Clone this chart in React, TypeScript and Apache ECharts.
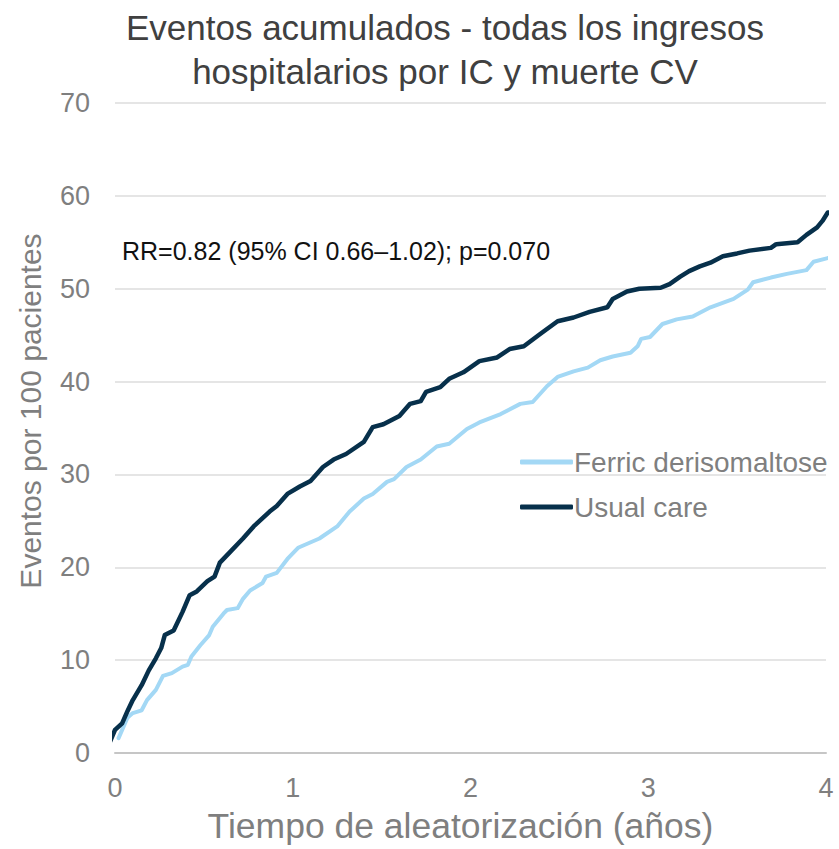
import React, { useEffect, useRef } from "react";
import * as echarts from "echarts";

const titleLines = ["Eventos acumulados - todas los ingresos", "hospitalarios por IC y muerte CV"];
const xAxisName = "Tiempo de aleatorización (años)";
const yAxisName = "Eventos por 100 pacientes";
const annotation = "RR=0.82 (95% CI 0.66–1.02); p=0.070";
const seriesNames = ["Ferric derisomaltose", "Usual care"];

const ferricDerisomaltose: [number, number][] = [
  [0.02, 1.6], [0.07, 3.8], [0.1, 4.3], [0.15, 4.6], [0.18, 5.7], [0.23, 6.8], [0.27, 8.3], [0.32, 8.6],
  [0.38, 9.3], [0.41, 9.5], [0.43, 10.4], [0.48, 11.6], [0.53, 12.7], [0.55, 13.6], [0.61, 15], [0.63, 15.4],
  [0.69, 15.6], [0.72, 16.6], [0.76, 17.5], [0.83, 18.3], [0.85, 19], [0.91, 19.4], [0.97, 20.9], [1.03, 22.1],
  [1.15, 23.1], [1.25, 24.4], [1.32, 26], [1.4, 27.4], [1.45, 27.9], [1.53, 29.2], [1.57, 29.5], [1.64, 30.8],
  [1.72, 31.6], [1.81, 33], [1.88, 33.3], [1.98, 34.9], [2.05, 35.6], [2.17, 36.5], [2.28, 37.6], [2.35, 37.8],
  [2.43, 39.5], [2.49, 40.5], [2.58, 41.1], [2.66, 41.5], [2.73, 42.3], [2.8, 42.7], [2.9, 43.1], [2.94, 43.8],
  [2.96, 44.6], [3.01, 44.8], [3.08, 46.2], [3.16, 46.7], [3.25, 47], [3.35, 48], [3.48, 48.9], [3.56, 49.9],
  [3.59, 50.7], [3.69, 51.2], [3.78, 51.6], [3.89, 52], [3.93, 52.9], [4.01, 53.3], [4.06, 53.5],
];

const usualCare: [number, number][] = [
  [-0.05, 0.2], [0, 2.5], [0.04, 3.2], [0.07, 4.5], [0.1, 5.7], [0.15, 7.3], [0.19, 8.9], [0.23, 10.2],
  [0.26, 11.3], [0.28, 12.7], [0.33, 13.2], [0.38, 15.2], [0.42, 17], [0.46, 17.4], [0.52, 18.5], [0.56, 19],
  [0.59, 20.5], [0.64, 21.5], [0.72, 23.1], [0.78, 24.4], [0.87, 26], [0.91, 26.6], [0.97, 27.9], [1.04, 28.7],
  [1.1, 29.3], [1.17, 30.8], [1.23, 31.6], [1.3, 32.2], [1.4, 33.5], [1.45, 35.1], [1.51, 35.4], [1.6, 36.3],
  [1.66, 37.6], [1.72, 37.9], [1.75, 38.9], [1.83, 39.4], [1.88, 40.3], [1.96, 41], [2.05, 42.2], [2.15, 42.6],
  [2.22, 43.5], [2.3, 43.8], [2.39, 45.1], [2.49, 46.5], [2.58, 46.9], [2.67, 47.5], [2.77, 48], [2.8, 48.9],
  [2.88, 49.7], [2.95, 50], [3.07, 50.1], [3.12, 50.5], [3.18, 51.3], [3.23, 51.9], [3.29, 52.4], [3.35, 52.8],
  [3.42, 53.5], [3.5, 53.8], [3.57, 54.1], [3.69, 54.4], [3.72, 54.8], [3.84, 55], [3.89, 55.8], [3.95, 56.6],
  [3.98, 57.3], [4.01, 58.2], [4.03, 58.2],
];

const FONT = "'Liberation Sans', Arial, sans-serif";
const GRAY = "#7f7f7f";
const LIGHT = "#a3d8f5";
const DARK = "#07304b";

export default function App() {
  const ref = useRef<HTMLDivElement>(null);
  useEffect(() => {
    if (!ref.current) return;
    const chart = echarts.init(ref.current, undefined, { renderer: "svg" });
    chart.setOption({
      animation: false,
      backgroundColor: "#ffffff",
      textStyle: { fontFamily: FONT },
      title: {
        text: titleLines.join("\n"),
        left: 440,
        top: 0,
        textAlign: "center",
        textStyle: { fontFamily: FONT, fontSize: 35, fontWeight: "normal", color: "#404040", lineHeight: 44 },
      },
      grid: { left: 115, right: 13, top: 103, bottom: 94, containLabel: false },
      legend: {
        orient: "vertical",
        left: 515,
        top: 442,
        icon: "roundRect",
        itemWidth: 53,
        itemHeight: 5,
        itemGap: 15,
        textStyle: { fontFamily: FONT, fontSize: 28, color: GRAY, lineHeight: 30, padding: [0, 0, 0, -4] },
        data: seriesNames,
      },
      xAxis: {
        type: "value",
        min: 0,
        max: 4,
        interval: 1,
        name: xAxisName,
        nameLocation: "middle",
        nameGap: 55,
        nameTextStyle: { fontFamily: FONT, fontSize: 35.5, color: GRAY, padding: [0, 20, 0, 0] },
        axisLine: { show: true, lineStyle: { color: "#c6c6c6", width: 2 } },
        axisTick: { show: false },
        splitLine: { show: false },
        axisLabel: { fontFamily: FONT, fontSize: 27, color: GRAY, margin: 21 },
      },
      yAxis: {
        type: "value",
        min: 0,
        max: 70,
        interval: 10,
        axisLine: { show: false },
        axisTick: { show: false },
        splitLine: { show: true, lineStyle: { color: "#dcdcdc", width: 1.5 } },
        axisLabel: { fontFamily: FONT, fontSize: 27, color: GRAY, margin: 25 },
      },
      graphic: [
        {
          type: "text",
          x: 30,
          y: 411,
          rotation: Math.PI / 2,
          style: {
            text: yAxisName,
            fontFamily: FONT,
            fontSize: 30,
            fill: GRAY,
            textAlign: "center",
            textVerticalAlign: "middle",
          },
        },
        {
          type: "text",
          x: 122,
          y: 251,
          style: {
            text: annotation,
            fontFamily: FONT,
            fontSize: 25,
            fill: "#111111",
            textAlign: "left",
            textVerticalAlign: "middle",
          },
        },
      ],
      series: [
        {
          name: seriesNames[0],
          type: "line",
          data: ferricDerisomaltose,
          symbol: "none",
          clip: false,
          lineStyle: { color: LIGHT, width: 4, cap: "round", join: "round" },
          itemStyle: { color: LIGHT },
        },
        {
          name: seriesNames[1],
          type: "line",
          data: usualCare,
          symbol: "none",
          clip: false,
          lineStyle: { color: DARK, width: 4.5, cap: "round", join: "round" },
          itemStyle: { color: DARK },
        },
      ],
    });
    return () => chart.dispose();
  }, []);
  return (
    <div
      ref={ref}
      style={{ width: 839, height: 849, position: "absolute", left: 0, top: 0 }}
    />
  );
}
